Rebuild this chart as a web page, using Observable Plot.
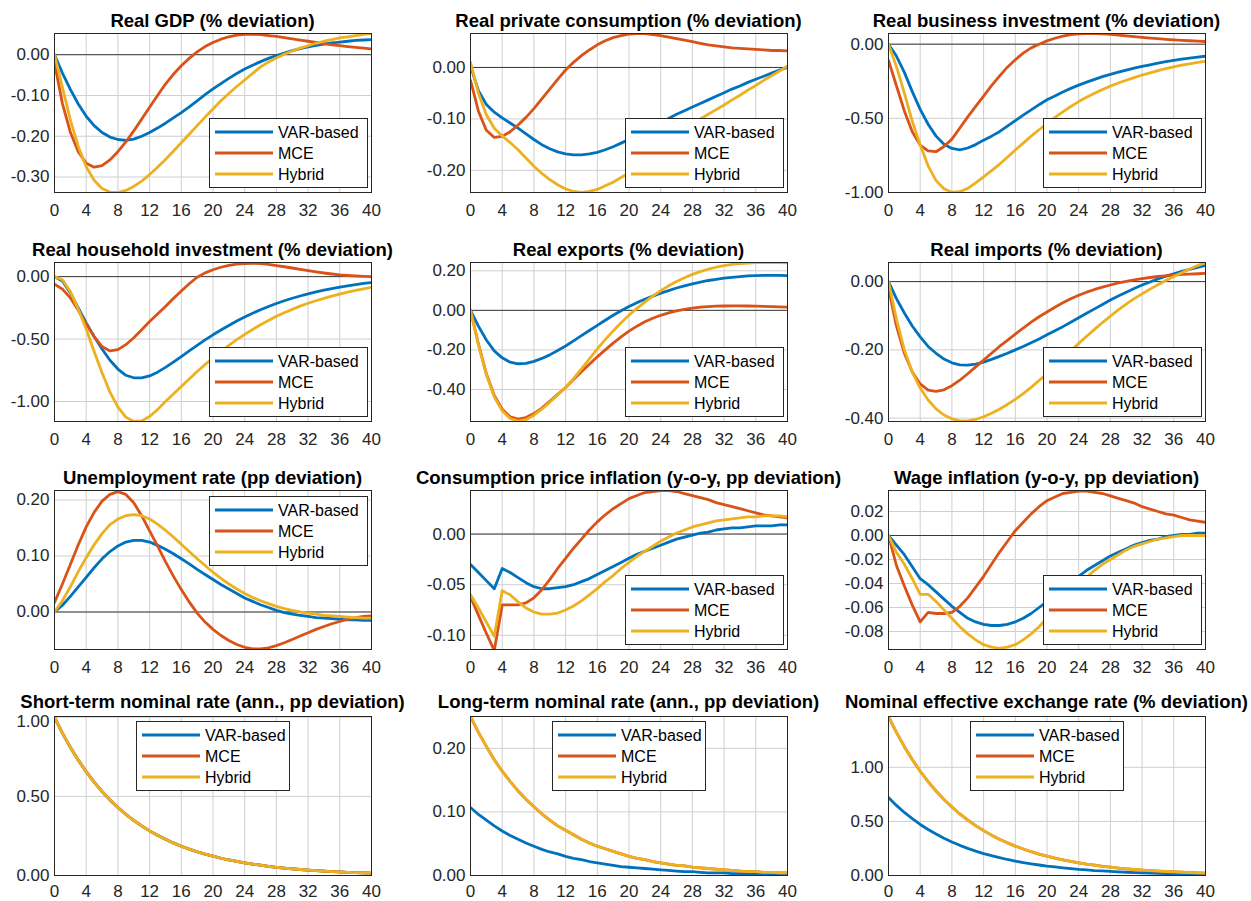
<!DOCTYPE html>
<html><head><meta charset="utf-8">
<script src="https://cdn.jsdelivr.net/npm/d3@7"></script>
<script src="https://cdn.jsdelivr.net/npm/@observablehq/plot@0.6"></script>
<style>
body{margin:0;background:#fff;overflow:hidden;font-family:"Liberation Sans",Arial,Helvetica,sans-serif;}
#root{position:relative;width:1251px;height:901px;overflow:hidden;}
.panel{position:absolute;}
.title{position:absolute;white-space:nowrap;font-weight:bold;font-size:18.5px;line-height:18px;color:#000;transform:translateX(-50%);}
</style></head><body><div id="root"></div>
<script>
// ---------- data ----------
const quarters = d3.range(0, 41);
const xTicks = [0,4,8,12,16,20,24,28,32,36,40];
const seriesNames = ["VAR-based", "MCE", "Hybrid"];
const seriesColors = ["#0072BD", "#D95319", "#EDB120"];

const gdpVAR = [0,-0.045,-0.085,-0.121,-0.151,-0.174,-0.191,-0.202,-0.208,-0.210,-0.207,-0.200,-0.191,-0.180,-0.168,-0.155,-0.142,-0.128,-0.113,-0.098,-0.084,-0.071,-0.058,-0.046,-0.035,-0.026,-0.017,-0.009,-0.002,0.004,0.010,0.015,0.019,0.023,0.026,0.029,0.031,0.033,0.035,0.036,0.037];
const gdpMCE = [-0.020,-0.120,-0.190,-0.238,-0.266,-0.276,-0.272,-0.258,-0.238,-0.214,-0.187,-0.158,-0.129,-0.100,-0.072,-0.048,-0.027,-0.009,0.007,0.020,0.030,0.038,0.044,0.048,0.050,0.050,0.049,0.047,0.045,0.042,0.039,0.036,0.033,0.030,0.027,0.024,0.022,0.020,0.018,0.016,0.014];
const gdpHybrid = [0,-0.080,-0.160,-0.225,-0.275,-0.308,-0.328,-0.337,-0.338,-0.333,-0.323,-0.310,-0.294,-0.276,-0.257,-0.237,-0.216,-0.195,-0.174,-0.153,-0.133,-0.113,-0.095,-0.078,-0.062,-0.046,-0.030,-0.018,-0.008,0.001,0.009,0.016,0.022,0.028,0.033,0.037,0.041,0.044,0.047,0.050,0.052];

const consVAR = [0.003,-0.045,-0.072,-0.087,-0.098,-0.108,-0.118,-0.129,-0.140,-0.150,-0.158,-0.164,-0.168,-0.170,-0.170,-0.168,-0.165,-0.160,-0.154,-0.147,-0.140,-0.131,-0.123,-0.115,-0.107,-0.099,-0.091,-0.084,-0.077,-0.070,-0.063,-0.056,-0.049,-0.042,-0.036,-0.029,-0.023,-0.017,-0.011,-0.005,0.000];
const consMCE = [-0.025,-0.085,-0.122,-0.136,-0.134,-0.125,-0.112,-0.097,-0.080,-0.061,-0.042,-0.023,-0.005,0.010,0.023,0.034,0.044,0.052,0.058,0.062,0.065,0.066,0.066,0.064,0.062,0.059,0.056,0.053,0.050,0.047,0.044,0.042,0.040,0.038,0.037,0.036,0.035,0.034,0.033,0.033,0.032];
const consHybrid = [0.010,-0.050,-0.092,-0.118,-0.133,-0.146,-0.160,-0.176,-0.192,-0.206,-0.218,-0.228,-0.236,-0.241,-0.243,-0.241,-0.237,-0.230,-0.223,-0.214,-0.205,-0.193,-0.181,-0.169,-0.157,-0.145,-0.133,-0.121,-0.110,-0.100,-0.091,-0.082,-0.073,-0.063,-0.054,-0.044,-0.035,-0.025,-0.016,-0.007,0.003];

const busVAR = [0,-0.08,-0.19,-0.32,-0.44,-0.54,-0.62,-0.675,-0.703,-0.712,-0.700,-0.677,-0.647,-0.620,-0.590,-0.553,-0.515,-0.478,-0.443,-0.408,-0.375,-0.349,-0.322,-0.298,-0.276,-0.256,-0.237,-0.219,-0.203,-0.189,-0.175,-0.162,-0.150,-0.139,-0.128,-0.118,-0.109,-0.101,-0.094,-0.087,-0.081];
const busMCE = [-0.11,-0.28,-0.45,-0.59,-0.68,-0.72,-0.725,-0.69,-0.64,-0.565,-0.49,-0.42,-0.35,-0.28,-0.215,-0.155,-0.105,-0.06,-0.025,0.0,0.022,0.040,0.054,0.064,0.069,0.072,0.072,0.070,0.066,0.061,0.056,0.051,0.046,0.041,0.037,0.033,0.029,0.026,0.023,0.020,0.018];
const busHybrid = [0,-0.15,-0.33,-0.52,-0.68,-0.82,-0.92,-0.975,-0.998,-0.995,-0.972,-0.935,-0.894,-0.853,-0.810,-0.762,-0.714,-0.667,-0.620,-0.577,-0.535,-0.494,-0.456,-0.420,-0.387,-0.358,-0.331,-0.306,-0.283,-0.262,-0.243,-0.225,-0.208,-0.193,-0.179,-0.165,-0.153,-0.142,-0.132,-0.123,-0.115];

const hhVAR = [0,-0.035,-0.13,-0.25,-0.37,-0.48,-0.58,-0.67,-0.74,-0.79,-0.81,-0.81,-0.795,-0.765,-0.727,-0.685,-0.64,-0.595,-0.55,-0.507,-0.466,-0.428,-0.391,-0.356,-0.323,-0.293,-0.265,-0.239,-0.215,-0.193,-0.173,-0.155,-0.138,-0.123,-0.109,-0.096,-0.085,-0.074,-0.064,-0.055,-0.047];
const hhMCE = [-0.06,-0.10,-0.17,-0.27,-0.38,-0.48,-0.56,-0.595,-0.585,-0.545,-0.49,-0.425,-0.36,-0.30,-0.24,-0.175,-0.115,-0.057,-0.005,0.030,0.055,0.075,0.090,0.100,0.105,0.107,0.105,0.098,0.088,0.079,0.069,0.058,0.048,0.038,0.029,0.021,0.014,0.009,0.005,0.002,0.0];
const hhHybrid = [0,-0.025,-0.12,-0.26,-0.42,-0.60,-0.77,-0.925,-1.045,-1.125,-1.16,-1.155,-1.12,-1.065,-1.0,-0.94,-0.88,-0.82,-0.76,-0.705,-0.65,-0.60,-0.55,-0.505,-0.462,-0.423,-0.386,-0.351,-0.318,-0.289,-0.262,-0.236,-0.213,-0.193,-0.174,-0.156,-0.140,-0.125,-0.111,-0.098,-0.085];

const expVAR = [0,-0.08,-0.15,-0.205,-0.24,-0.262,-0.27,-0.268,-0.258,-0.243,-0.225,-0.203,-0.18,-0.154,-0.128,-0.102,-0.076,-0.05,-0.025,-0.002,0.02,0.039,0.056,0.072,0.087,0.100,0.113,0.124,0.134,0.143,0.151,0.157,0.163,0.167,0.171,0.174,0.176,0.177,0.177,0.177,0.176];
const expMCE = [0,-0.17,-0.32,-0.43,-0.50,-0.538,-0.55,-0.542,-0.522,-0.494,-0.46,-0.425,-0.39,-0.35,-0.31,-0.272,-0.235,-0.20,-0.166,-0.134,-0.105,-0.08,-0.058,-0.04,-0.025,-0.013,-0.003,0.005,0.011,0.016,0.019,0.021,0.022,0.023,0.023,0.022,0.021,0.020,0.019,0.018,0.016];
const expHybrid = [0,-0.175,-0.325,-0.438,-0.508,-0.547,-0.56,-0.553,-0.53,-0.50,-0.465,-0.428,-0.39,-0.345,-0.296,-0.245,-0.195,-0.148,-0.104,-0.063,-0.025,0.01,0.042,0.072,0.10,0.124,0.146,0.165,0.182,0.196,0.208,0.218,0.226,0.232,0.236,0.239,0.241,0.242,0.242,0.241,0.240];

const impVAR = [0,-0.05,-0.092,-0.13,-0.162,-0.19,-0.21,-0.227,-0.238,-0.244,-0.245,-0.242,-0.236,-0.228,-0.219,-0.21,-0.2,-0.19,-0.179,-0.168,-0.156,-0.144,-0.132,-0.119,-0.106,-0.093,-0.08,-0.067,-0.054,-0.042,-0.031,-0.02,-0.01,-0.001,0.008,0.016,0.023,0.030,0.036,0.042,0.047];
const impMCE = [-0.02,-0.13,-0.21,-0.265,-0.30,-0.318,-0.322,-0.317,-0.305,-0.289,-0.27,-0.25,-0.23,-0.21,-0.19,-0.172,-0.154,-0.136,-0.119,-0.103,-0.089,-0.075,-0.062,-0.05,-0.04,-0.031,-0.023,-0.016,-0.01,-0.004,0.001,0.005,0.009,0.012,0.015,0.017,0.019,0.021,0.022,0.023,0.024];
const impHybrid = [0,-0.11,-0.20,-0.265,-0.312,-0.347,-0.373,-0.391,-0.402,-0.408,-0.408,-0.404,-0.396,-0.386,-0.374,-0.36,-0.345,-0.328,-0.31,-0.29,-0.27,-0.248,-0.226,-0.203,-0.181,-0.16,-0.14,-0.12,-0.101,-0.083,-0.066,-0.05,-0.036,-0.022,-0.009,0.003,0.015,0.026,0.037,0.047,0.056];

const unVAR = [0,0.012,0.028,0.045,0.062,0.079,0.095,0.108,0.118,0.125,0.128,0.128,0.125,0.119,0.112,0.104,0.095,0.086,0.076,0.067,0.058,0.049,0.041,0.033,0.025,0.019,0.013,0.008,0.003,-0.001,-0.004,-0.006,-0.008,-0.010,-0.011,-0.012,-0.013,-0.014,-0.014,-0.015,-0.015];
const unMCE = [0.017,0.05,0.085,0.12,0.152,0.178,0.198,0.21,0.215,0.21,0.195,0.172,0.145,0.118,0.09,0.064,0.04,0.018,-0.002,-0.018,-0.031,-0.042,-0.051,-0.058,-0.063,-0.066,-0.066,-0.064,-0.06,-0.055,-0.049,-0.043,-0.037,-0.031,-0.026,-0.021,-0.017,-0.013,-0.01,-0.008,-0.007];
const unHybrid = [0,0.02,0.045,0.072,0.097,0.12,0.14,0.156,0.166,0.172,0.174,0.172,0.166,0.157,0.146,0.134,0.121,0.108,0.095,0.083,0.071,0.06,0.05,0.041,0.033,0.026,0.02,0.015,0.01,0.006,0.003,0.0,-0.002,-0.004,-0.006,-0.007,-0.008,-0.009,-0.01,-0.011,-0.011];

const cpiVAR = [-0.030,-0.038,-0.046,-0.054,-0.034,-0.038,-0.043,-0.048,-0.052,-0.054,-0.054,-0.053,-0.052,-0.050,-0.047,-0.044,-0.040,-0.036,-0.032,-0.028,-0.024,-0.020,-0.017,-0.014,-0.011,-0.008,-0.005,-0.003,-0.001,0.001,0.002,0.004,0.005,0.006,0.006,0.007,0.008,0.008,0.008,0.009,0.009];
const cpiMCE = [-0.062,-0.080,-0.098,-0.115,-0.070,-0.070,-0.070,-0.068,-0.063,-0.055,-0.045,-0.034,-0.024,-0.014,-0.005,0.004,0.012,0.019,0.025,0.030,0.035,0.038,0.041,0.042,0.043,0.043,0.042,0.040,0.038,0.036,0.034,0.031,0.029,0.027,0.025,0.023,0.021,0.019,0.018,0.017,0.016];
const cpiHybrid = [-0.060,-0.073,-0.087,-0.101,-0.056,-0.060,-0.067,-0.073,-0.077,-0.079,-0.079,-0.078,-0.075,-0.071,-0.066,-0.060,-0.054,-0.047,-0.041,-0.034,-0.028,-0.022,-0.017,-0.012,-0.007,-0.003,0.001,0.004,0.007,0.009,0.011,0.013,0.014,0.015,0.016,0.017,0.017,0.018,0.018,0.018,0.017];

const wageVAR = [0,-0.008,-0.016,-0.026,-0.036,-0.041,-0.047,-0.053,-0.059,-0.064,-0.069,-0.072,-0.074,-0.075,-0.075,-0.074,-0.072,-0.069,-0.065,-0.060,-0.055,-0.050,-0.045,-0.039,-0.034,-0.029,-0.025,-0.021,-0.017,-0.014,-0.011,-0.008,-0.006,-0.004,-0.003,-0.001,0.000,0.001,0.001,0.002,0.002];
const wageMCE = [0,-0.025,-0.042,-0.058,-0.072,-0.064,-0.065,-0.065,-0.064,-0.059,-0.052,-0.043,-0.034,-0.024,-0.014,-0.005,0.004,0.011,0.018,0.024,0.029,0.032,0.035,0.036,0.037,0.037,0.036,0.035,0.033,0.031,0.029,0.027,0.024,0.022,0.020,0.018,0.017,0.015,0.013,0.012,0.011];
const wageHybrid = [0,-0.014,-0.024,-0.036,-0.049,-0.049,-0.055,-0.062,-0.069,-0.076,-0.082,-0.087,-0.091,-0.093,-0.094,-0.093,-0.091,-0.087,-0.082,-0.076,-0.069,-0.062,-0.055,-0.048,-0.041,-0.035,-0.029,-0.024,-0.020,-0.016,-0.012,-0.009,-0.007,-0.005,-0.003,-0.002,-0.001,0.000,0.000,0.000,0.000];

const strVAR = [1.000,0.900,0.810,0.729,0.656,0.590,0.531,0.478,0.430,0.387,0.349,0.314,0.282,0.254,0.229,0.206,0.185,0.167,0.150,0.135,0.122,0.109,0.098,0.089,0.080,0.072,0.065,0.058,0.052,0.047,0.042,0.038,0.034,0.031,0.028,0.025,0.023,0.020,0.018,0.016,0.015];
const strMCE = [1.000,0.900,0.810,0.729,0.656,0.590,0.531,0.478,0.430,0.387,0.349,0.314,0.282,0.254,0.229,0.206,0.185,0.167,0.150,0.135,0.122,0.109,0.098,0.089,0.080,0.072,0.065,0.058,0.052,0.047,0.042,0.038,0.034,0.031,0.028,0.025,0.023,0.020,0.018,0.016,0.015];
const strHybrid = [1.000,0.900,0.810,0.729,0.656,0.590,0.531,0.478,0.430,0.387,0.349,0.314,0.282,0.254,0.229,0.206,0.185,0.167,0.150,0.135,0.122,0.109,0.098,0.089,0.080,0.072,0.065,0.058,0.052,0.047,0.042,0.038,0.034,0.031,0.028,0.025,0.023,0.020,0.018,0.016,0.015];

const ltrVAR = [0.107,0.096,0.087,0.078,0.070,0.063,0.057,0.051,0.046,0.041,0.037,0.034,0.030,0.027,0.025,0.022,0.020,0.018,0.016,0.014,0.013,0.012,0.011,0.010,0.009,0.008,0.007,0.006,0.006,0.005,0.004,0.004,0.004,0.003,0.003,0.003,0.002,0.002,0.002,0.002,0.002];
const ltrMCE = [0.250,0.225,0.203,0.182,0.164,0.148,0.133,0.120,0.108,0.097,0.087,0.078,0.071,0.064,0.057,0.051,0.046,0.042,0.038,0.034,0.030,0.027,0.025,0.022,0.020,0.018,0.016,0.015,0.013,0.012,0.011,0.010,0.009,0.008,0.007,0.006,0.006,0.005,0.005,0.004,0.004];
const ltrHybrid = [0.250,0.225,0.203,0.182,0.164,0.148,0.133,0.120,0.108,0.097,0.087,0.078,0.071,0.064,0.057,0.051,0.046,0.042,0.038,0.034,0.030,0.027,0.025,0.022,0.020,0.018,0.016,0.015,0.013,0.012,0.011,0.010,0.009,0.008,0.007,0.006,0.006,0.005,0.005,0.004,0.004];

const neerVAR = [0.720,0.648,0.583,0.525,0.472,0.425,0.383,0.344,0.310,0.279,0.251,0.226,0.203,0.183,0.165,0.148,0.133,0.120,0.108,0.097,0.087,0.079,0.071,0.064,0.057,0.052,0.046,0.042,0.038,0.034,0.030,0.027,0.025,0.022,0.020,0.018,0.016,0.015,0.013,0.012,0.011];
const neerMCE = [1.470,1.323,1.191,1.072,0.964,0.868,0.781,0.703,0.633,0.569,0.512,0.461,0.415,0.373,0.336,0.302,0.272,0.245,0.220,0.198,0.179,0.161,0.145,0.130,0.117,0.105,0.095,0.085,0.077,0.069,0.062,0.056,0.050,0.045,0.041,0.037,0.033,0.030,0.027,0.024,0.022];
const neerHybrid = [1.470,1.323,1.191,1.072,0.964,0.868,0.781,0.703,0.633,0.569,0.512,0.461,0.415,0.373,0.336,0.302,0.272,0.245,0.220,0.198,0.179,0.161,0.145,0.130,0.117,0.105,0.095,0.085,0.077,0.069,0.062,0.056,0.050,0.045,0.041,0.037,0.033,0.030,0.027,0.024,0.022];

const titles = [
  "Real GDP (% deviation)", "Real private consumption (% deviation)", "Real business investment (% deviation)",
  "Real household investment (% deviation)", "Real exports (% deviation)", "Real imports (% deviation)",
  "Unemployment rate (pp deviation)", "Consumption price inflation (y-o-y, pp deviation)", "Wage inflation (y-o-y, pp deviation)",
  "Short-term nominal rate (ann., pp deviation)", "Long-term nominal rate (ann., pp deviation)", "Nominal effective exchange rate (% deviation)"
];
const yTicks = [
  [0,-0.1,-0.2,-0.3], [0,-0.1,-0.2], [0,-0.5,-1.0],
  [0,-0.5,-1.0], [0.2,0,-0.2,-0.4], [0,-0.2,-0.4],
  [0,0.1,0.2], [0,-0.05,-0.1], [0.02,0,-0.02,-0.04,-0.06,-0.08],
  [0,0.5,1.0], [0,0.1,0.2], [0,0.5,1.0]
];
const seriesByPanel = [
  [gdpVAR, gdpMCE, gdpHybrid], [consVAR, consMCE, consHybrid], [busVAR, busMCE, busHybrid],
  [hhVAR, hhMCE, hhHybrid], [expVAR, expMCE, expHybrid], [impVAR, impMCE, impHybrid],
  [unVAR, unMCE, unHybrid], [cpiVAR, cpiMCE, cpiHybrid], [wageVAR, wageMCE, wageHybrid],
  [strVAR, strMCE, strHybrid], [ltrVAR, ltrMCE, ltrHybrid], [neerVAR, neerMCE, neerHybrid]
];

// ---------- layout / scales ----------
const yDomains = [
  [-0.338,0.052], [-0.243,0.066], [-1.0,0.072],
  [-1.16,0.113], [-0.562,0.242], [-0.41,0.056],
  [-0.067,0.217], [-0.114,0.043], [-0.095,0.0375],
  [0,1.005], [0,0.25], [0,1.47]
];
const legendPos = ["se","se","se","se","se","se","ne","se","se","n","n","n"];
const colLeft = [0, 416, 834];
const rowTop = [0, 229, 457, 683];
const xPad = [11, 11, 11, 9];
const W = 417, H = 218, ML = 54, MR = 46, MT = 33, MB = 26;
const PW = W - ML - MR, PH = H - MT - MB;
const fmt = v => v.toFixed(2);
const FONT = '"Liberation Sans", Arial, Helvetica, sans-serif';

const root = document.getElementById("root");

titles.forEach((title, i) => {
  const col = i % 3, row = Math.floor(i / 3);
  const rows = [];
  seriesByPanel[i].forEach((vals, s) => vals.forEach((v, k) => rows.push({q: quarters[k], v, s: seriesNames[s]})));
  const lineMarks = seriesNames.map((name, s) =>
    Plot.line(rows.filter(d => d.s === name), {x: "q", y: "v", stroke: seriesColors[s], strokeWidth: 2.8, clip: true}));
  // a tick label sitting right at the top edge is nudged down (as in the original)
  const [d0, d1] = yDomains[i];
  const edgeTicks = yTicks[i].filter(v => Math.abs(v - d1) / (d1 - d0) < 0.02);
  const innerTicks = yTicks[i].filter(v => !edgeTicks.includes(v));
  const axisOpts = {tickSize: 0, tickPadding: 5, tickFormat: fmt, fill: "#262626", fontSize: 17, label: null};
  const plot = Plot.plot({
    width: W, height: H,
    marginLeft: ML, marginRight: MR, marginTop: MT, marginBottom: MB,
    style: {fontFamily: FONT, fontSize: "17px", color: "#262626", background: "transparent", overflow: "visible"},
    x: {domain: [0, 40], label: null},
    y: {domain: yDomains[i], label: null},
    marks: [
      Plot.gridX(xTicks, {stroke: "#cfcfcf", strokeOpacity: 1, strokeWidth: 1}),
      Plot.gridY(yTicks[i], {stroke: "#cfcfcf", strokeOpacity: 1, strokeWidth: 1}),
      Plot.ruleY([0], {stroke: "#3a3a3a", strokeWidth: 1}),
      ...lineMarks,
      Plot.frame({stroke: "#262626", strokeWidth: 1}),
      Plot.axisX(xTicks, {tickSize: 0, tickPadding: xPad[row], fill: "#262626", fontSize: 17, label: null}),
      Plot.axisY(innerTicks, axisOpts),
      ...(edgeTicks.length ? [Plot.axisY(edgeTicks, {...axisOpts, dy: 4})] : [])
    ]
  });
  const wrap = document.createElement("div");
  wrap.className = "panel";
  wrap.style.left = colLeft[col] + "px";
  wrap.style.top = rowTop[row] + "px";
  wrap.appendChild(plot);
  root.appendChild(wrap);

  // title
  const t = document.createElement("div");
  t.className = "title";
  t.textContent = title;
  t.style.left = (colLeft[col] + ML + PW / 2) + "px";
  t.style.top = (rowTop[row] + (row === 3 ? 10 : 12)) + "px";
  root.appendChild(t);

  // legend (inside plot frame)
  const pos = legendPos[i];
  const lw = pos === "n" ? 153 : 158, lh = 69;
  let bx, by;
  if (pos === "se") { bx = PW - 4 - lw; by = PH - 5 - lh; }
  else if (pos === "ne") { bx = PW - 4 - lw; by = 6; }
  else { bx = Math.round((PW - lw) / 2); by = 5; }
  const svg = d3.select(plot);
  const g = svg.append("g").attr("transform", `translate(${ML + bx},${MT + by})`);
  g.append("rect").attr("x", 0.5).attr("y", 0.5).attr("width", lw).attr("height", lh)
    .attr("fill", "#fff").attr("stroke", "#262626").attr("stroke-width", 1);
  seriesNames.forEach((name, s) => {
    const yy = 14 + s * 21;
    g.append("line").attr("x1", 6).attr("x2", 64).attr("y1", yy).attr("y2", yy)
      .attr("stroke", seriesColors[s]).attr("stroke-width", 2.8);
    g.append("text").attr("x", 69).attr("y", yy).attr("dy", "0.35em")
      .attr("text-anchor", "start")
      .attr("font-family", FONT).attr("font-size", 16).attr("fill", "#000").text(name);
  });
});
</script></body></html>
